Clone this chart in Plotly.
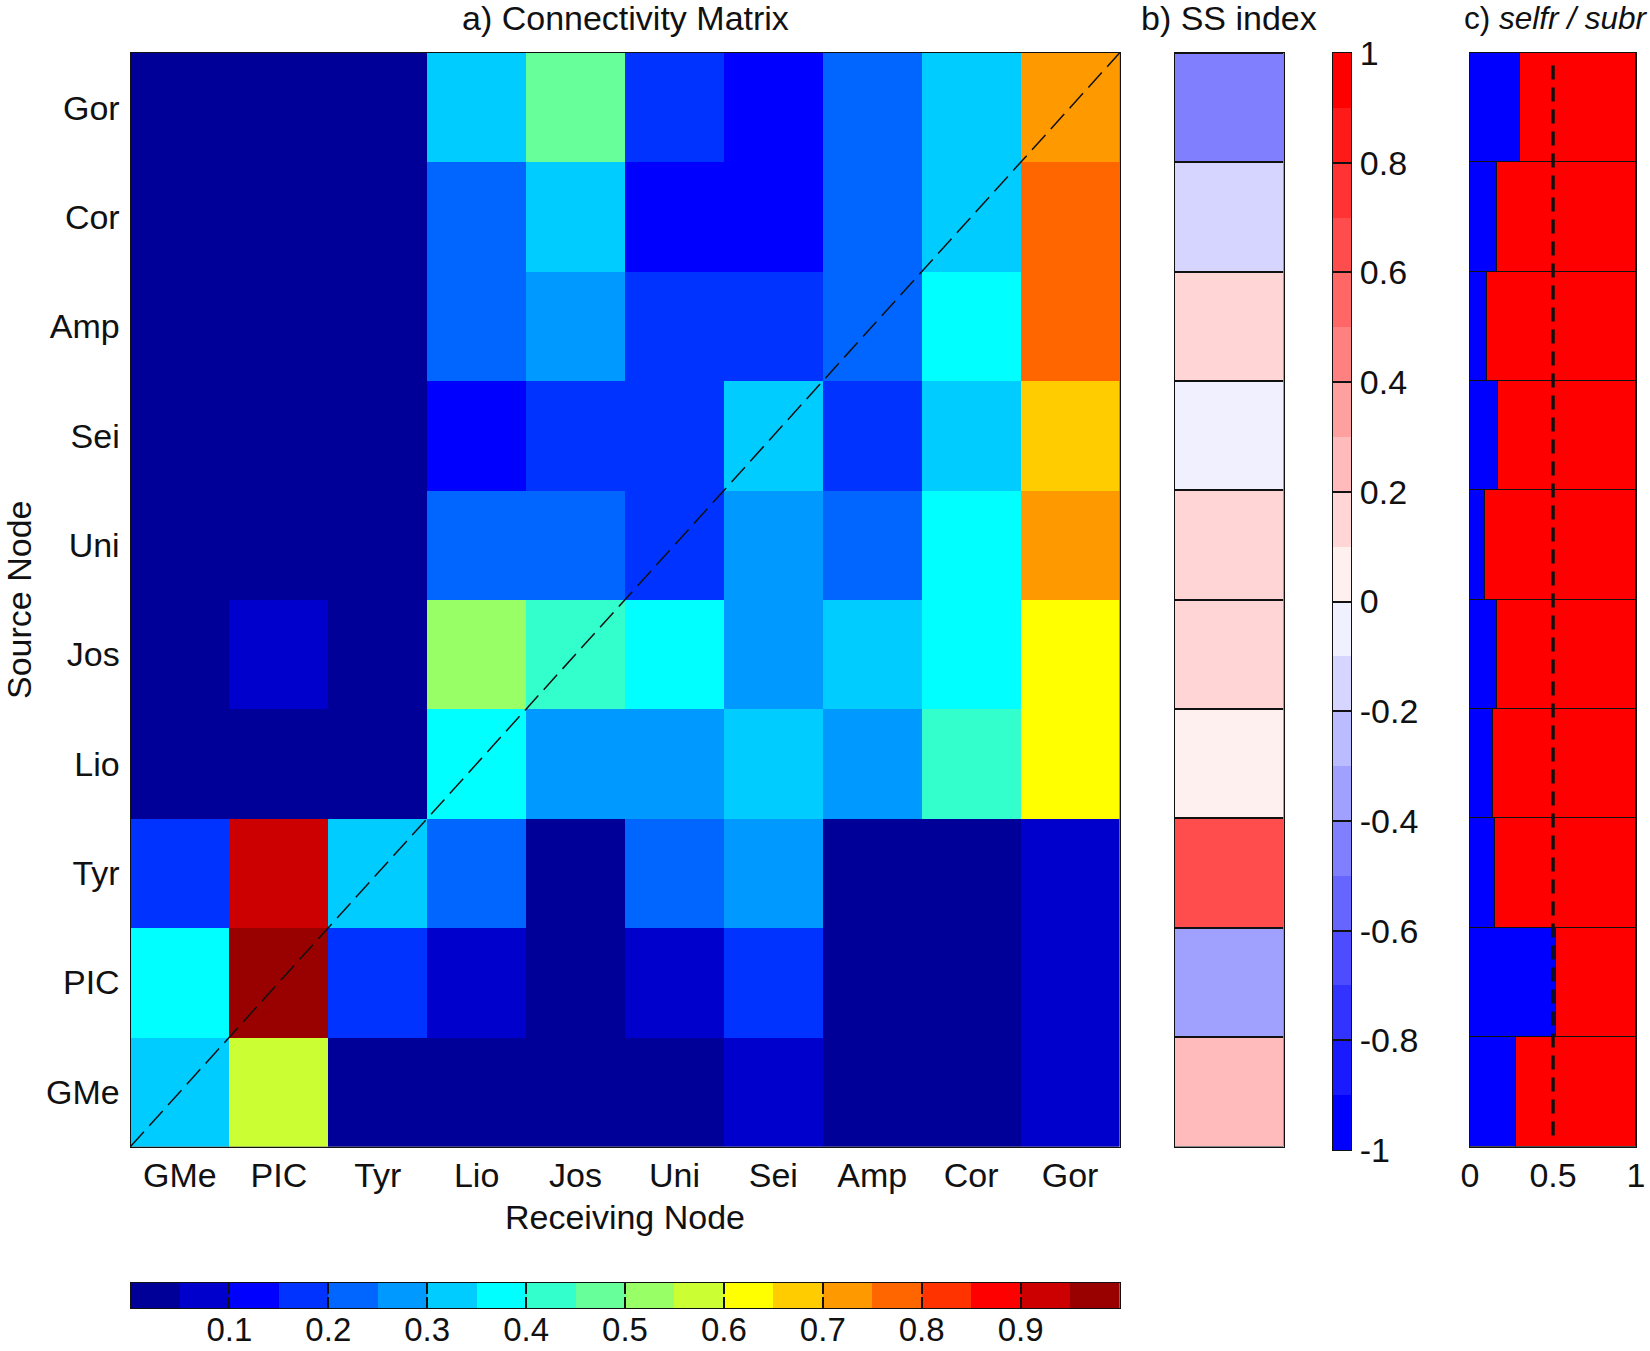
import plotly.graph_objects as go

W, H = 1650, 1351

nodes = ["GMe", "PIC", "Tyr", "Lio", "Jos", "Uni", "Sei", "Amp", "Cor", "Gor"]

# rows are source nodes, bottom (GMe) to top (Gor); columns are receiving nodes
row_gme = [0.325, 0.575, 0.025, 0.025, 0.025, 0.025, 0.075, 0.025, 0.025, 0.075]
row_pic = [0.375, 0.975, 0.175, 0.075, 0.025, 0.075, 0.175, 0.025, 0.025, 0.075]
row_tyr = [0.175, 0.925, 0.325, 0.225, 0.025, 0.225, 0.275, 0.025, 0.025, 0.075]
row_lio = [0.025, 0.025, 0.025, 0.375, 0.275, 0.275, 0.325, 0.275, 0.425, 0.625]
row_jos = [0.025, 0.075, 0.025, 0.525, 0.425, 0.375, 0.275, 0.325, 0.375, 0.625]
row_uni = [0.025, 0.025, 0.025, 0.225, 0.225, 0.175, 0.275, 0.225, 0.375, 0.725]
row_sei = [0.025, 0.025, 0.025, 0.125, 0.175, 0.175, 0.325, 0.175, 0.325, 0.675]
row_amp = [0.025, 0.025, 0.025, 0.225, 0.275, 0.175, 0.175, 0.225, 0.375, 0.775]
row_cor = [0.025, 0.025, 0.025, 0.225, 0.325, 0.125, 0.125, 0.225, 0.325, 0.775]
row_gor = [0.025, 0.025, 0.025, 0.325, 0.475, 0.175, 0.125, 0.225, 0.325, 0.725]
connectivity = [row_gme, row_pic, row_tyr, row_lio, row_jos,
                row_uni, row_sei, row_amp, row_cor, row_gor]

ss_index = [0.25, -0.35, 0.65, 0.05, 0.15, 0.15, -0.05, 0.15, -0.15, -0.45]

subr_share = [0.28, 0.52, 0.15, 0.14, 0.16, 0.09, 0.17, 0.10, 0.16, 0.30]
selfr_share = [0.72, 0.48, 0.85, 0.86, 0.84, 0.91, 0.83, 0.90, 0.84, 0.70]

jet_levels = ["#000099", "#0000cc", "#0000ff", "#0033ff", "#0066ff", "#0099ff", "#00ccff",
              "#00ffff", "#33ffcc", "#66ff99", "#99ff66", "#ccff33", "#ffff00", "#ffcc00",
              "#ff9900", "#ff6600", "#ff3300", "#ff0000", "#cc0000", "#990000"]
bwr_levels = ["#0000ff", "#1a1aff", "#3333ff", "#4d4dff", "#6666ff", "#8080ff", "#a0a0ff",
              "#bbbbff", "#d5d5ff", "#f0f0ff", "#fff0f0", "#ffd5d5", "#ffbbbb", "#ffa0a0",
              "#ff8080", "#ff6666", "#ff4d4d", "#ff3333", "#ff1a1a", "#ff0000"]
jet_ticks = [0.1, 0.2, 0.3, 0.4, 0.5, 0.6, 0.7, 0.8, 0.9]
bwr_ticks = [-1, -0.8, -0.6, -0.4, -0.2, 0, 0.2, 0.4, 0.6, 0.8, 1]
share_ticks = [0, 0.5, 1]

FONT = "Liberation Sans, Arial, sans-serif"
FS = 34
INK = "#111111"


def stepped(colors):
    n = len(colors)
    scale = []
    for i, c in enumerate(colors):
        scale += [[i / n, c], [(i + 1) / n, c]]
    return scale


def edges(lo, hi, n):
    return [lo + (hi - lo) * i / n for i in range(n + 1)]


def mids(lo, hi, n):
    return [lo + (hi - lo) * (i + 0.5) / n for i in range(n)]


def xdom(a, b):
    return [a / W, b / W]


def ydom(top, bottom):
    return [1 - bottom / H, 1 - top / H]


TOP, BOTTOM = 53, 1146.5
LEFT, RIGHT = 130.5, 1119.5

fig = go.Figure()

fig.add_trace(go.Heatmap(
    x=nodes, y=nodes, z=connectivity, xaxis="x", yaxis="y",
    zmin=0, zmax=1, colorscale=stepped(jet_levels), showscale=False,
))

fig.add_trace(go.Heatmap(
    x=["SS index"], y=nodes, z=[[v] for v in ss_index], xaxis="x2", yaxis="y2",
    zmin=-1, zmax=1, colorscale=stepped(bwr_levels), ygap=2, showscale=False,
))

fig.add_trace(go.Bar(y=nodes, x=subr_share, orientation="h", xaxis="x3", yaxis="y3",
                     marker=dict(color="#0000ff", line=dict(color=INK, width=1.2)), width=1,
                     showlegend=False))
fig.add_trace(go.Bar(y=nodes, x=selfr_share, orientation="h", xaxis="x3", yaxis="y3",
                     marker=dict(color="#ff0000", line=dict(color=INK, width=1.2)), width=1,
                     showlegend=False))

# colour keys: one row / one column of the same stepped scales
fig.add_trace(go.Heatmap(
    x=edges(0, 1, len(jet_levels)), y=[0, 1], z=[mids(0, 1, len(jet_levels))],
    xaxis="x4", yaxis="y4", zmin=0, zmax=1, colorscale=stepped(jet_levels), showscale=False,
))
fig.add_trace(go.Heatmap(
    y=edges(-1, 1, len(bwr_levels)), x=[0, 1], z=[[v] for v in mids(-1, 1, len(bwr_levels))],
    xaxis="x5", yaxis="y5", zmin=-1, zmax=1, colorscale=stepped(bwr_levels), showscale=False,
))

frame = dict(showline=True, mirror=True, linecolor=INK, linewidth=1, showgrid=False,
             zeroline=False, automargin=False,
             tickfont=dict(family=FONT, size=FS, color=INK))
key_frame = dict(frame, mirror="allticks", ticks="inside", tickcolor=INK, tickmode="array")
blank = dict(showticklabels=False, ticks="", range=[0, 1], **frame)
key_frame_low = dict(key_frame, tickfont=dict(family=FONT, size=33, color=INK))

fig.update_layout(
    width=W, height=H, margin=dict(l=0, r=0, t=0, b=0),
    paper_bgcolor="white", plot_bgcolor=INK, barmode="stack", bargap=0,
    font=dict(family=FONT, size=FS, color=INK), showlegend=False,
    xaxis=dict(domain=xdom(LEFT, RIGHT), anchor="y", type="category",
               categoryorder="array", categoryarray=nodes,
               ticks="", ticklabelstandoff=-1,
               title=dict(text="Receiving Node", standoff=11,
                          font=dict(family=FONT, size=FS, color=INK)), **frame),
    yaxis=dict(domain=ydom(TOP, BOTTOM), anchor="x", type="category",
               categoryorder="array", categoryarray=nodes,
               ticks="", ticklabelstandoff=3,
               title=dict(text="Source Node", standoff=29,
                          font=dict(family=FONT, size=FS, color=INK)), **frame),
    xaxis2=dict(domain=xdom(1174.5, 1283.5), anchor="y2", showticklabels=False, ticks="", **frame),
    yaxis2=dict(domain=ydom(TOP, BOTTOM), anchor="x2", type="category",
                categoryorder="array", categoryarray=nodes,
                showticklabels=False, ticks="", **frame),
    xaxis3=dict(domain=xdom(1470, 1636), anchor="y3", range=[0, 1], tickmode="array",
                tickvals=share_ticks, ticktext=[str(t) for t in share_ticks],
                ticks="", ticklabelstandoff=-1, **frame),
    yaxis3=dict(domain=ydom(TOP, BOTTOM), anchor="x3", type="category",
                categoryorder="array", categoryarray=nodes,
                showticklabels=False, ticks="", **frame),
    xaxis4=dict(domain=xdom(LEFT, RIGHT), anchor="y4", range=[0, 1],
                tickvals=jet_ticks, ticktext=[str(t) for t in jet_ticks],
                ticklen=11, tickwidth=1.5, ticklabelstandoff=-8, **key_frame_low),
    yaxis4=dict(domain=ydom(1283, 1308), anchor="x4", **blank),
    xaxis5=dict(domain=xdom(1333, 1351), anchor="y5", **blank),
    yaxis5=dict(domain=ydom(53, 1150), anchor="x5", side="right", range=[-1, 1],
                tickvals=bwr_ticks, ticktext=[str(t) for t in bwr_ticks],
                ticklen=9, tickwidth=1.5, ticklabelstandoff=1, **key_frame),
    shapes=[
        dict(type="line", xref="x domain", yref="y domain", x0=0, y0=0, x1=1, y1=1,
             line=dict(color=INK, width=1.5, dash="20px,8px")),
        dict(type="line", xref="x3", yref="y3 domain", x0=0.5, x1=0.5, y0=0.01, y1=0.99,
             line=dict(color=INK, width=3.5, dash="14px,8px")),
    ],
    annotations=[
        dict(text="a) Connectivity Matrix", xref="x domain", x=0.5, yref="paper", y=1 - 18 / H,
             yanchor="middle", showarrow=False),
        dict(text="b) SS index", xref="x2 domain", x=0.5, yref="paper", y=1 - 18 / H,
             yanchor="middle", showarrow=False),
        dict(text="c) <i>selfr / subr</i>", xref="x3 domain", x=0.5, xshift=3, yref="paper",
             y=1 - 18 / H, yanchor="middle", showarrow=False, font=dict(size=31.5)),
    ],
)

fig.write_html("out.html", config=dict(displayModeBar=False),
               post_script="document.body.style.margin='0';document.body.style.overflow='hidden';")
